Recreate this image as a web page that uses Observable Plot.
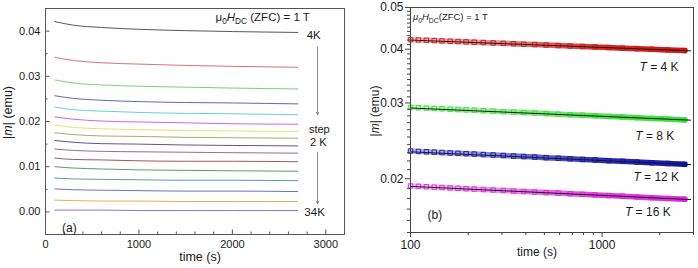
<!DOCTYPE html>
<html><head><meta charset="utf-8">
<script src="https://cdn.jsdelivr.net/npm/d3@7"></script>
<script src="https://cdn.jsdelivr.net/npm/@observablehq/plot@0.6"></script>
<style>
body{margin:0;background:#fff}
#wrap{position:relative;width:698px;height:268px;overflow:hidden;background:#fff}
#pa{position:absolute;left:0;top:0}
#pb{position:absolute;left:348px;top:0}
</style>
</head><body><div id="wrap"><div id="pa"></div><div id="pb"></div></div>
<script>
const FONT = "'Liberation Sans', Arial, Helvetica, sans-serif";

// ---------- Panel (a) data ----------
const timesA = [100, 300, 600, 1000, 1500, 2000, 2700];
const tempsA = ["4K","6K","8K","10K","12K","14K","16K","18K","20K","22K","24K","26K","28K","30K","32K","34K"];
const colorsA = ["#3a3a3a","#d05a5a","#5ccc5c","#4a4a9c","#4cc8d2","#c84cc8","#e6dc55","#9c9c48",
                 "#3c3c78","#8c4c8c","#8c3c3c","#3c8c4c","#3c8890","#4c5cb0","#e0a040","#7c5cc0"];
const m_4K  = [0.0421, 0.0413, 0.0408, 0.0404, 0.0401, 0.0399, 0.0397];
const m_6K  = [0.0342, 0.0335, 0.0330, 0.0327, 0.0324, 0.0322, 0.0320];
const m_8K  = [0.0292, 0.0285, 0.0281, 0.0278, 0.0276, 0.0274, 0.0272];
const m_10K = [0.0257, 0.0251, 0.0247, 0.0244, 0.0242, 0.0241, 0.0239];
const m_12K = [0.0232, 0.0226, 0.0223, 0.0220, 0.0218, 0.0217, 0.0215];
const m_14K = [0.0210, 0.0205, 0.0201, 0.0199, 0.0197, 0.0195, 0.0194];
const m_16K = [0.0192, 0.0187, 0.0184, 0.0182, 0.0180, 0.0179, 0.0178];
const m_18K = [0.0175, 0.0171, 0.0168, 0.0167, 0.0165, 0.0164, 0.0163];
const m_20K = [0.0158, 0.0154, 0.0151, 0.0150, 0.0148, 0.0147, 0.0146];
const m_22K = [0.0139, 0.0136, 0.0134, 0.0133, 0.0132, 0.0131, 0.0130];
const m_24K = [0.0119, 0.0116, 0.0115, 0.0113, 0.0112, 0.0112, 0.0111];
const m_26K = [0.0100, 0.0097, 0.0095, 0.0093, 0.0092, 0.0091, 0.0090];
const m_28K = [0.0075, 0.0073, 0.0072, 0.0071, 0.0070, 0.0070, 0.0069];
const m_30K = [0.0051, 0.0049, 0.0048, 0.0047, 0.0046, 0.0046, 0.0045];
const m_32K = [0.0026, 0.0025, 0.0024, 0.0024, 0.0023, 0.0023, 0.0023];
const m_34K = [0.0004, 0.0004, 0.0004, 0.0003, 0.0003, 0.0003, 0.0003];
const seriesA = [m_4K,m_6K,m_8K,m_10K,m_12K,m_14K,m_16K,m_18K,m_20K,m_22K,m_24K,m_26K,m_28K,m_30K,m_32K,m_34K];

const majorXA = [0, 1000, 2000, 3000];
const minorXA = [200,400,600,800,1200,1400,1600,1800,2200,2400,2600,2800];
const majorYA = [0.00, 0.01, 0.02, 0.03, 0.04];
const minorYA = [-0.005, 0.005, 0.015, 0.025, 0.035, 0.045];

// ---------- Panel (b) data ----------
const timesB = [100,110,121,133,146,161,177,195,215,240,270,305,345,390,445,510,590,680,790,920,1080,1280,1520,1820,2200,2700];
const mB_4K  = [0.04210,0.04203,0.04196,0.04189,0.04182,0.04174,0.04167,0.04160,0.04153,0.04145,0.04136,0.04127,0.04118,
                0.04109,0.04100,0.04090,0.04079,0.04069,0.04058,0.04047,0.04035,0.04023,0.04011,0.03998,0.03985,0.03970];
const mB_8K  = [0.02930,0.02924,0.02919,0.02913,0.02908,0.02902,0.02896,0.02891,0.02885,0.02878,0.02872,0.02864,0.02857,
                0.02850,0.02843,0.02835,0.02826,0.02818,0.02810,0.02801,0.02792,0.02782,0.02773,0.02762,0.02752,0.02740];
const mB_12K = [0.02320,0.02315,0.02310,0.02306,0.02301,0.02296,0.02291,0.02287,0.02282,0.02276,0.02271,0.02265,0.02258,
                0.02252,0.02246,0.02239,0.02232,0.02225,0.02218,0.02211,0.02203,0.02195,0.02187,0.02178,0.02170,0.02160];
const mB_16K = [0.01924,0.01920,0.01916,0.01912,0.01908,0.01904,0.01900,0.01896,0.01892,0.01888,0.01883,0.01878,0.01873,
                0.01868,0.01863,0.01857,0.01852,0.01846,0.01840,0.01834,0.01828,0.01821,0.01814,0.01807,0.01800,0.01792];
const seriesB = [mB_4K, mB_8K, mB_12K, mB_16K];
const colorsB = ["#d41414", "#3ce03c", "#1414b4", "#e028e0"];
const labelsB = ["T = 4 K", "T = 8 K", "T = 12 K", "T = 16 K"];
const fitT = [100, 2900];
const fit_4K = [0.0420, 0.03965];
const fit_8K = [0.0292, 0.02736];
const fit_12K = [0.0231, 0.02157];
const fit_16K = [0.0192, 0.01789];
const fitsB = [fit_4K, fit_8K, fit_12K, fit_16K];

const majorXB = [100, 1000];
const minorXB = [200,300,400,500,600,700,800,900,2000,3000];
const majorYB = [0.02, 0.03, 0.04, 0.05];
const minorYB = [0.015,0.016,0.017,0.018,0.019,0.021,0.022,0.023,0.024,0.025,0.026,0.027,0.028,0.029,
                 0.031,0.032,0.033,0.034,0.035,0.036,0.037,0.038,0.039,0.041,0.042,0.043,0.044,0.045,0.046,0.047,0.048,0.049];

const blank = () => "";
const mid = {textAnchor: "middle", lineAnchor: "middle"};

// ---------- Panel (a) ----------
const plotA = Plot.plot({
  width: 350, height: 268,
  marginLeft: 45, marginRight: 6, marginTop: 8, marginBottom: 34,
  style: {fontFamily: FONT, fontSize: "11px", color: "#1a1a1a", background: "#fff"},
  x: {domain: [0, 3200]},
  y: {domain: [-0.005, 0.045]},
  marks: [
    ...seriesA.map((vals, i) => Plot.line(vals.map((m, j) => ({t: timesA[j], m})),
      {x: "t", y: "m", stroke: colorsA[i], strokeWidth: 1, strokeOpacity: 0.85, curve: "monotone-x"})),
    Plot.frame({stroke: "#555"}),
    Plot.axisX({ticks: majorXA, tickSize: 0, tickPadding: 6, tickFormat: d3.format("d"), label: null, fontSize: 11}),
    Plot.axisX({ticks: majorXA, tickSize: 4.5, dy: -4.5, tickFormat: blank, label: null, stroke: "#555"}),
    Plot.axisX({ticks: minorXA, tickSize: 2.5, dy: -2.5, tickFormat: blank, label: null, stroke: "#555"}),
    Plot.axisY({ticks: majorYA, tickSize: 0, tickPadding: 5, tickFormat: d3.format(".2f"), label: null, fontSize: 11}),
    Plot.axisY({ticks: majorYA, tickSize: 4.5, dx: 4.5, tickFormat: blank, label: null, stroke: "#555"}),
    Plot.axisY({ticks: minorYA, tickSize: 2.5, dx: 2.5, tickFormat: blank, label: null, stroke: "#555"}),
    Plot.text(["|m| (emu)"], {text: d => d, frameAnchor: "left", rotate: -90, dx: -37.5, dy: -9, fontSize: 12.5, ...mid}),
    Plot.text(["time (s)"], {text: d => d, frameAnchor: "bottom", dx: 5, dy: 22, fontSize: 12.5, ...mid}),
    Plot.text(["MU_A"], {text: d => d, x: 1820, y: 0.0431, textAnchor: "start", fontSize: 11.5}),
    Plot.text([tempsA[0]], {text: d => d, x: 2870, y: 0.0390, fontSize: 11.5}),
    Plot.text([tempsA[tempsA.length - 1]], {text: d => d, x: 2880, y: -0.0001, fontSize: 11.5}),
    Plot.text(["step"], {text: d => d, x: 2930, y: 0.0183, fontSize: 11}),
    Plot.text(["2 K"], {text: d => d, x: 2920, y: 0.0153, fontSize: 11}),
    Plot.arrow([0], {x1: 2912, x2: 2912, y1: 0.0365, y2: 0.0215, stroke: "#8a8a8a", strokeWidth: 1, headLength: 4, headAngle: 50}),
    Plot.arrow([0], {x1: 2912, x2: 2912, y1: 0.0132, y2: 0.0018, stroke: "#8a8a8a", strokeWidth: 1, headLength: 4, headAngle: 50}),
    Plot.text(["(a)"], {text: d => d, x: 255, y: -0.0035, fontSize: 12})
  ]
});

// ---------- Panel (b) ----------
const rowsB = seriesB.map(vals => vals.map((m, j) => ({t: timesB[j], m})));
const fitRows = fitsB.map(v => v.map((m, j) => ({t: fitT[j], m})));
const labelPosB = [[1984, 0.03632], [1884, 0.02515], [1918, 0.02017], [1732, 0.01671]];

const plotB = Plot.plot({
  width: 350, height: 268,
  marginLeft: 62, marginRight: 5, marginTop: 7, marginBottom: 36,
  style: {fontFamily: FONT, fontSize: "12px", color: "#1a1a1a", background: "#fff"},
  x: {type: "log", domain: [100, 3000]},
  y: {type: "log", domain: [0.015, 0.05]},
  marks: [
    ...rowsB.map((rows, i) => Plot.line(rows, {x: "t", y: "m", stroke: `url(#bandGrad${i})`, strokeWidth: 5.5})),
    ...rowsB.map((rows, i) => Plot.dot(rows, {x: "t", y: "m", symbol: "square", r: 2.5, stroke: colorsB[i], fill: "none", strokeWidth: 0.9})),
    ...fitRows.map(rows => Plot.line(rows, {x: "t", y: "m", stroke: "#1a1a1a", strokeWidth: 1})),
    Plot.frame({stroke: "#444"}),
    Plot.axisX({ticks: majorXB, tickSize: 5, tickPadding: 3, tickFormat: d3.format("d"), label: null, fontSize: 12, stroke: "#444"}),
    Plot.axisX({ticks: minorXB, tickSize: 3, tickFormat: blank, label: null, stroke: "#444"}),
    Plot.axisY({ticks: majorYB, tickSize: 5, tickPadding: 2, tickFormat: d3.format(".2f"), label: null, fontSize: 12, stroke: "#444"}),
    Plot.axisY({ticks: minorYB, tickSize: 3, tickFormat: blank, label: null, stroke: "#444"}),
    Plot.text(["|m| (emu)"], {text: d => d, frameAnchor: "left", rotate: -90, dx: -35, dy: -9, fontSize: 12, ...mid}),
    Plot.text(["time (s)"], {text: d => d, frameAnchor: "bottom", dx: -15, dy: 20, fontSize: 12, ...mid}),
    Plot.text(["MU_B"], {text: d => d, x: 103, y: 0.04746, textAnchor: "start", fontSize: 9.5}),
    ...labelsB.map((lab, i) => Plot.text([lab], {text: d => d, x: labelPosB[i][0], y: labelPosB[i][1], fontSize: 12})),
    Plot.text(["(b)"], {text: d => d, x: 134, y: 0.01644, fontSize: 12})
  ]
});

// gradients for the dense-marker bands (lighter where points are sparse)
const defs = d3.select(plotB).insert("defs", ":first-child");
colorsB.forEach((c, i) => {
  const g = defs.append("linearGradient").attr("id", `bandGrad${i}`).attr("x1", "0").attr("x2", "1").attr("y1", "0").attr("y2", "0");
  g.append("stop").attr("offset", "0").attr("stop-color", c).attr("stop-opacity", 0.3);
  g.append("stop").attr("offset", "0.35").attr("stop-color", c).attr("stop-opacity", 0.55);
  g.append("stop").attr("offset", "0.7").attr("stop-color", c).attr("stop-opacity", 0.9);
  g.append("stop").attr("offset", "1").attr("stop-color", c).attr("stop-opacity", 1);
});

// ---------- rich text (italics, subscripts) ----------
function setRich(svg, match, parts) {
  d3.select(svg).selectAll("text").filter(function() { return this.textContent === match; }).each(function() {
    const t = d3.select(this);
    t.text(null);
    let shifted = 0;
    for (const p of parts) {
      const s = t.append("tspan").text(p.t);
      if (p.i) s.attr("font-style", "italic");
      const target = p.sub ? 3 : 0;
      if (target !== shifted) { s.attr("dy", target - shifted); shifted = target; }
      if (p.sub) s.attr("font-size", "0.72em");
    }
  });
}
for (const svg of [plotA, plotB]) {
  setRich(svg, "|m| (emu)", [{t: "|"}, {t: "m", i: 1}, {t: "| (emu)"}]);
  for (const lab of labelsB) setRich(svg, lab, [{t: "T", i: 1}, {t: lab.slice(1)}]);
}
setRich(plotA, "MU_A", [{t: "\u03bc"}, {t: "0", sub: 1}, {t: "H", i: 1}, {t: "DC", sub: 1}, {t: " (ZFC) = 1 T"}]);
setRich(plotB, "MU_B", [{t: "\u03bc", i: 1}, {t: "0", sub: 1, i: 1}, {t: "H", i: 1}, {t: "DC", sub: 1}, {t: "(ZFC) = 1 T"}]);

document.getElementById("pa").appendChild(plotA);
document.getElementById("pb").appendChild(plotB);
</script>
</body></html>
